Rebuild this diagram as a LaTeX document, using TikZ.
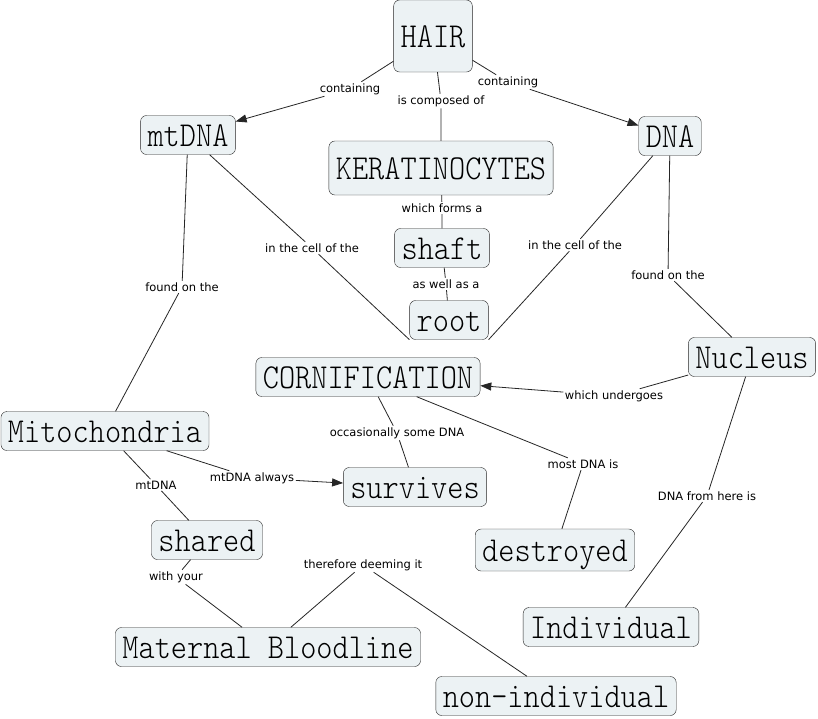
\documentclass[tikz,border=0pt]{standalone}
\usepackage{fontspec}
\newfontfamily\lblfont{DejaVu Sans}
\newfontfamily\cptfont[FakeStretch=0.88]{Latin Modern Mono Light}
\usetikzlibrary{arrows.meta}
\definecolor{boxfill}{RGB}{236,242,244}
\tikzset{
	concept/.style={draw=black!85,fill=boxfill,rounded corners=6pt,font=\cptfont\fontsize{35}{35}\selectfont,text height=26pt,text depth=4pt,inner xsep=7pt,inner ysep=4.5pt},
	phrase/.style={font=\lblfont\fontsize{11.5}{12}\selectfont,inner sep=1.5pt},
	link/.style={draw=black!85,line width=0.8pt},
	linkarrow/.style={link,-{Triangle[length=11pt,width=8pt]}}
}

\begin{document}
\begin{tikzpicture}[x=1pt,y=-1pt]
		\useasboundingbox[fill=white] (0,0) rectangle (818,718);
		% concepts
		\node (hair) at (433,36) [concept,minimum height=72pt]{HAIR};
		\node (mtdna) at (188,135) [concept]{mtDNA};
		\node (dna) at (670,136) [concept]{DNA};
		\node (kera) at (441,168) [concept,minimum height=54pt]{KERATINOCYTES};
		\node (shaft) at (442,248) [concept]{shaft};
		\node (root) at (449,320) [concept,minimum height=35pt]{root};
		\node (corni) at (368,377) [concept]{CORNIFICATION};
		\node (nucleus) at (752,357) [concept]{Nucleus};
		\node (mito) at (105,431) [concept]{Mitochondria};
		\node (survives) at (415,487) [concept]{survives};
		\node (destroyed) at (555,550) [concept,minimum height=42pt]{destroyed};
		\node (shared) at (207,540) [concept]{shared};
		\node (maternal) at (268,647) [concept]{Maternal Bloodline};
		\node (indiv) at (611,627) [concept]{Individual};
		\node (nonindiv) at (556,696) [concept]{non-individual};
		% linking phrases
		\node (l1) at (350,89) [phrase]{containing};
		\node (l2) at (508,82) [phrase]{containing};
		\node (l3) at (441,101) [phrase]{is composed of};
		\node (l4) at (442,208) [phrase]{which forms a};
		\node (l5) at (446,284) [phrase]{as well as a};
		\node (l6) at (312,248) [phrase]{in the cell of the};
		\node (l7) at (575,245) [phrase]{in the cell of the};
		\node (l8) at (182,287) [phrase]{found on the};
		\node (l9) at (668,275) [phrase]{found on the};
		\node (l10) at (614,396) [phrase]{which undergoes};
		\node (l11) at (397,433) [phrase]{occasionally some DNA};
		\node (l12) at (583,464) [phrase]{most DNA is};
		\node (l13) at (252,478) [phrase]{mtDNA always};
		\node (l14) at (156,485) [phrase]{mtDNA};
		\node (l15) at (176,577) [phrase]{with your};
		\node (l16) at (363,565) [phrase]{therefore deeming it};
		\node (l17) at (707,496) [phrase]{DNA from here is};
		% links
		\draw[link](hair)--(l1);
		\draw[linkarrow](l1)--(mtdna);
		\draw[link](hair)--(l2);
		\draw[linkarrow](l2)--(dna);
		\draw[link](hair)--(l3)--(kera);
		\draw[link](kera)--(l4)--(shaft);
		\draw[link](shaft)--(l5)--(root);
		\draw[link](mtdna)--(l6)--(root.south west);
		\draw[link](dna)--(l7)--(root.south east);
		\draw[link](mtdna)--(l8)--(mito);
		\draw[link](dna)--(l9)--(nucleus);
		\draw[link](nucleus)--(l10);
		\draw[linkarrow](l10)--(corni);
		\draw[link](corni)--(l11)--(survives);
		\draw[link](corni)--(l12)--(destroyed);
		\draw[link](mito)--(l13);
		\draw[linkarrow](l13)--(survives);
		\draw[link](mito)--(l14)--(shared);
		\draw[link](shared)--(l15)--(maternal);
		\draw[link](maternal)--(l16)--(nonindiv);
		\draw[link](nucleus)--(l17)--(indiv);
	\end{tikzpicture}
\end{document}
